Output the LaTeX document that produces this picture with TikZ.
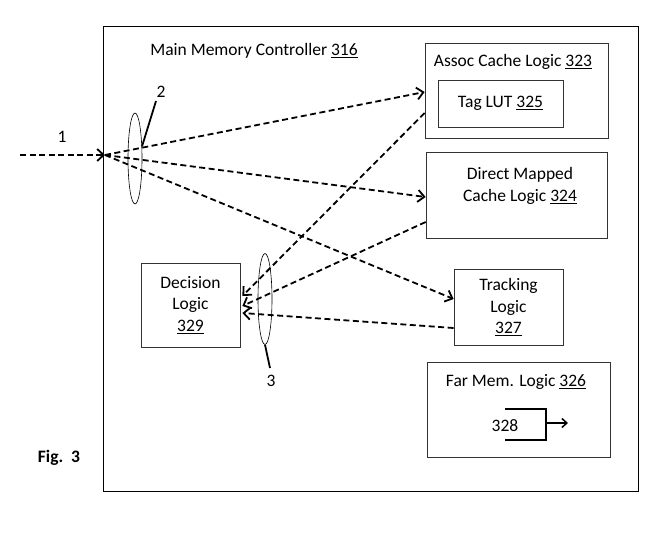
\documentclass[tikz,border=0pt]{standalone}
\usepackage{fontspec}
\setmainfont{Carlito}
\usetikzlibrary{arrows.meta,shapes.geometric}

\begin{document}
\begin{tikzpicture}[
	x=1pt, y=-1pt,
	font=\fontsize{17.5}{21.5}\selectfont,
	unit/.style args = {#1 and #2}{
		rectangle, draw=black!80, line width=0.7pt,
		minimum width=#1, minimum height=#2,
		inner sep=0pt
	},
	caption/.style = {inner sep=0pt, align=center},
	flow/.style = {
		line width=1.8pt, dash pattern=on 6pt off 3.5pt,
		-{Straight Barb[length=6.5pt,width=12pt,line width=1.8pt]}
	},
	loop/.style = {
		ellipse, draw, line width=0.6pt,
		minimum width=14pt, minimum height=91pt,
		inner sep=0pt
	},
	leader/.style = {line width=1.8pt}
]
	\useasboundingbox (0,0) rectangle (663,535);

	\node [unit={535pt and 465pt}, draw=black, line width=0.9pt] (ctrl) at (371,258.5) {};
	\node [caption] at (254,51) {Main Memory Controller \underline{316}};

	\node [unit={183pt and 95pt}] (assoc) at (516.5,90.5) {};
	\node [caption] at (513,62) {Assoc Cache Logic \underline{323}};
	\node [unit={125pt and 47pt}] (taglut) at (500.5,103.5) {Tag LUT \underline{325}};

	\node [unit={181pt and 86pt}] (direct) at (516.5,195) {};
	\node [caption] at (520,186) {Direct Mapped\\Cache Logic \underline{324}};

	\node [unit={109pt and 76pt}, align=center] (tracking) at (508.5,307) {Tracking\\Logic\\\underline{327}};

	\node [unit={99pt and 84pt}, align=center] (decision) at (190.5,305) {Decision\\Logic\\\underline{329}};

	\node [unit={183pt and 95pt}] (farmem) at (518.5,409.5) {};
	\node [caption] at (516,382) {Far Mem. Logic \underline{326}};
	\node [caption] (fm) at (505,426) {328};
	\draw [line width=1.5pt] (505,409) -- (546,409) -- (546,440) -- (505,440);
	\draw [line width=1.5pt, -{Straight Barb[length=5pt,width=9pt]}] (546,423) -- (568,423);

	\coordinate (src) at (20,155);
	\coordinate (hub) at (105,155);
	\node [caption] at (62,137) {1};
	\draw [flow] (src) -- (hub);

	\draw [flow] (hub) -- ([yshift=-1.5pt]assoc.west);
	\draw [flow] (hub) -- ([yshift=-2pt]direct.west);
	\draw [flow] (hub) -- ([yshift=8pt]tracking.west);

	\draw [flow] ([yshift=-22.5pt]assoc.west) -- ([xshift=2pt,yshift=9pt]decision.east);
	\draw [flow] ([yshift=-27pt]direct.west) -- ([xshift=2pt,yshift=-1pt]decision.east);
	\draw [flow] ([yshift=-21pt]tracking.west) -- ([xshift=2pt,yshift=-8pt]decision.east);

	\node [loop] (loop2) at (135,158.5) {};
	\coordinate (tip2) at (156,101);
	\draw [leader] (loop2.60) -- (tip2);
	\node [caption] at (161,92) {2};

	\node [loop] (loop3) at (265,299) {};
	\coordinate (tip3) at (270,368);
	\draw [leader] (loop3.south) -- (tip3);
	\node [caption] at (271,381) {3};

	\node [caption, font=\fontsize{17.5}{21}\selectfont\bfseries] at (59,458) {Fig.~~3};
\end{tikzpicture}
\end{document}
